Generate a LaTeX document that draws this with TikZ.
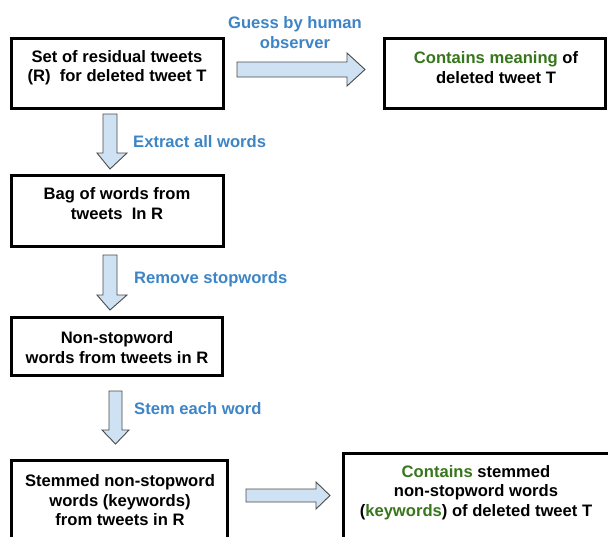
\documentclass[tikz,border=0pt]{standalone}
\usepackage{fontspec}
\setmainfont{Liberation Sans}
\definecolor{lblblue}{HTML}{3D85C6}
\definecolor{kwgreen}{HTML}{38761D}
\definecolor{arrfill}{HTML}{CFE2F3}
\definecolor{arrline}{HTML}{4A4A4A}
\begin{document}
\begin{tikzpicture}[x=1pt,y=-1pt,
  boxnode/.style={draw=black,line width=2.8pt,fill=white,inner sep=0pt,outer sep=0pt,rectangle},
  txt/.style={font=\fontsize{16.6}{19.5}\selectfont\bfseries,align=center,inner sep=0pt,text=black},
  lbl/.style={font=\fontsize{16.6}{19.5}\selectfont\bfseries,align=center,inner sep=0pt,text=lblblue},
  blockarrow/.style={draw=arrline,line width=0.9pt,fill=arrfill,line join=miter}]
\useasboundingbox (0,0) rectangle (608,536);
\clip (0,0) rectangle (608,536);
\fill[white] (0,0) rectangle (608,536);
% boxes
\node[boxnode,minimum width=212pt,minimum height=70pt] (b1) at (117.5,73.5) {};
\node[boxnode,minimum width=221pt,minimum height=70pt] (b2) at (495,73.5) {};
\node[boxnode,minimum width=212pt,minimum height=71pt] (b3) at (117.5,211) {};
\node[boxnode,minimum width=211pt,minimum height=58pt] (b4) at (117,346.5) {};
\node[boxnode,minimum width=216pt,minimum height=100pt] (b5) at (119.5,510.5) {};
\node[boxnode,minimum width=280pt,minimum height=110pt] (b6) at (483.5,508.5) {};
% texts
\node[txt] (t1) at (117,67.8) {Set of residual tweets\\(R)\ \ for deleted tweet T};
\node[txt] (t2) at (496,67.5) {\textcolor{kwgreen}{Contains meaning} of\\deleted tweet T};
\node[txt] (t3) at (117,203.5) {Bag of words from\\tweets\ \ In R};
\node[txt] (t4) at (117,347.5) {Non-stopword\\words from tweets in R};
\node[txt] (t5) at (120,500.3) {Stemmed non-stopword\\words (keywords)\\from tweets in R};
\node[txt] (t6) at (476,492.3) {\textcolor{kwgreen}{Contains} stemmed\\non-stopword words\\(\textcolor{kwgreen}{keywords}) of deleted tweet T};
% labels
\node[lbl] (l1) at (295,32.5) {Guess by human\\observer};
\node[lbl,anchor=west] (l2) at (133,142) {Extract all words};
\node[lbl,anchor=west] (l3) at (134,279) {Remove stopwords};
\node[lbl,anchor=west] (l4) at (134,409) {Stem each word};
% block arrows
\draw[blockarrow] (237,62) -- (347,62) -- (347,53) -- (365,69.5) -- (347,86) -- (347,77) -- (237,77) -- cycle;
\draw[blockarrow] (103,114) -- (117,114) -- (117,153) -- (127,153) -- (110,169) -- (97,153) -- (103,153) -- cycle;
\draw[blockarrow] (103,255) -- (117,255) -- (117,295) -- (127,295) -- (110,310) -- (97,295) -- (103,295) -- cycle;
\draw[blockarrow] (109,391) -- (122,391) -- (122,430) -- (129,430) -- (115.5,444) -- (102,430) -- (109,430) -- cycle;
\draw[blockarrow] (246,489) -- (316,489) -- (316,482) -- (330,495.5) -- (316,509) -- (316,502) -- (246,502) -- cycle;
\end{tikzpicture}
\end{document}
